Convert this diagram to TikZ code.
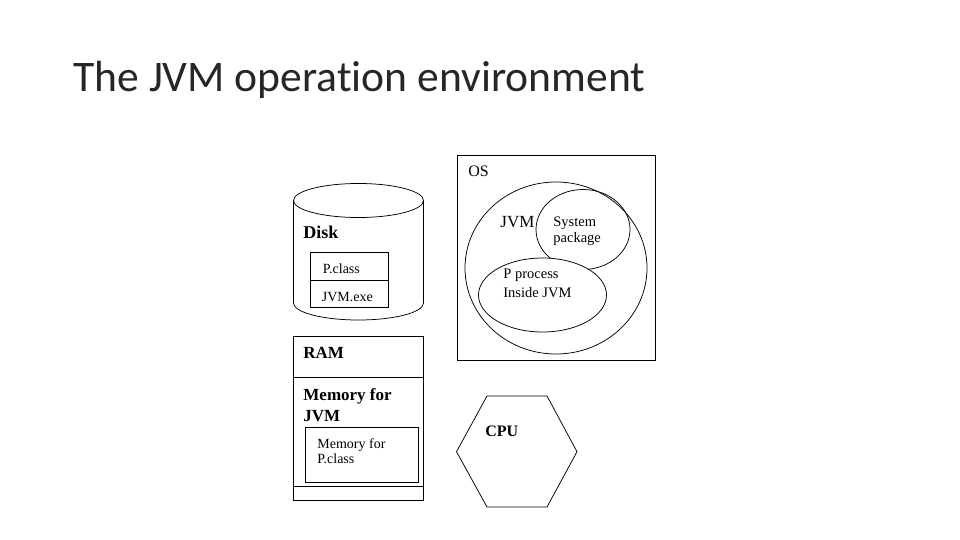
\documentclass[tikz,border=0pt]{standalone}
\usepackage{fontspec}
\setmainfont{Liberation Serif}
\newfontfamily\titlefont[Ligatures=NoCommon]{Carlito}
\begin{document}
\begin{tikzpicture}[x=1pt,y=-1pt,line width=0.8pt,
  lbl/.style={anchor=base west,inner sep=0pt,font=\fontsize{14}{16}\selectfont},
  biglbl/.style={anchor=base west,inner sep=0pt,font=\fontsize{17}{19}\selectfont\bfseries},
  outl/.style={draw=black,line width=0.75pt}]
\useasboundingbox[fill=white] (0,0) rectangle (960,540);
% title
\node[anchor=base west,inner sep=0pt,font=\titlefont\fontsize{43.6}{50}\selectfont,text=black!85] (title) at (73,92) {The JVM operation environment};
% disk cylinder
\draw[outl] (293.5,200.5) -- (293.5,303) arc[start angle=180,end angle=0,x radius=65,y radius=17] -- (423.5,200.5);
\draw[outl] (358.5,200.5) ellipse[x radius=65,y radius=17];
\node[biglbl,font=\fontsize{18}{20}\selectfont\bfseries] (disk) at (303,238) {Disk};
\draw[outl] (310.7,252) rectangle (388.7,307.3);
\draw[outl] (310.7,280) -- (388.7,280);
\node[lbl] (pclass) at (322.5,273) {P.class};
\node[lbl] (jvmexe) at (321.5,301.5) {JVM.exe};
% RAM
\draw[outl] (293.3,336) rectangle (423.5,500);
\draw[outl] (293.3,377.7) -- (423.5,377.7);
\draw[outl] (293.3,486.7) -- (423.5,486.7);
\draw[outl] (305.7,427.3) rectangle (418.3,482.3);
\node[biglbl] (ram) at (303,358) {RAM};
\node[biglbl] (memjvm1) at (303,400) {Memory for};
\node[biglbl] (memjvm2) at (303,421.5) {JVM};
\node[lbl] (mempc1) at (317,448) {Memory for};
\node[lbl] (mempc2) at (317,463.5) {P.class};
% OS
\draw[outl] (457,155.5) rectangle (655.5,360.7);
\node[lbl,font=\fontsize{16}{18}\selectfont] (os) at (468,177) {OS};
\draw[outl] (556,268) ellipse[x radius=91,y radius=86];
\draw[outl] (583,229.5) ellipse[x radius=47,y radius=40];
\draw[outl,fill=white] (542.5,295) ellipse[x radius=64,y radius=37];
\node[lbl,font=\fontsize{17}{19}\selectfont] (jvm) at (500,227.5) {JVM};
\node[lbl,font=\fontsize{14.5}{16}\selectfont] (sys1) at (553,226) {System};
\node[lbl,font=\fontsize{14.5}{16}\selectfont] (sys2) at (553,242) {package};
\node[lbl,font=\fontsize{14.5}{16}\selectfont] (pp1) at (503,278) {P process};
\node[lbl,font=\fontsize{14.5}{16}\selectfont] (pp2) at (503,297.5) {Inside JVM};
% CPU
\draw[outl] (487,396) -- (547,396) -- (577,451.7) -- (547,507) -- (487,507) -- (456.5,451.7) -- cycle;
\node[biglbl,font=\fontsize{16}{18}\selectfont\bfseries] (cpu) at (485,436.7) {CPU};
\end{tikzpicture}
\end{document}
